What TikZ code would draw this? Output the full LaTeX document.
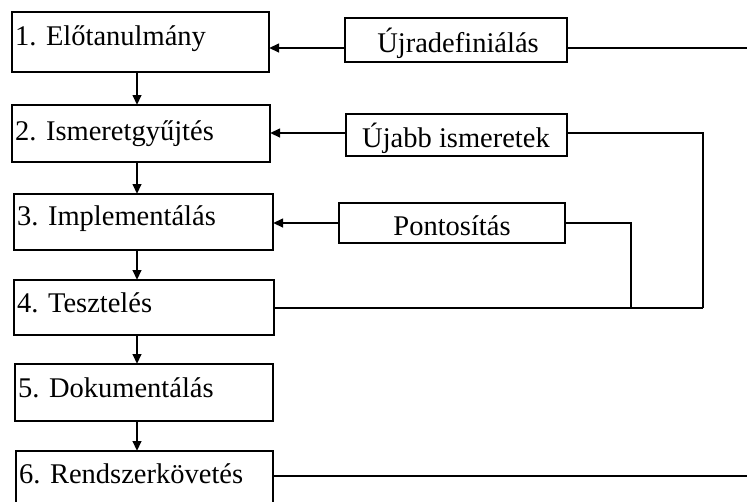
\documentclass[tikz,border=0pt]{standalone}
\usepackage{fontspec}
\setmainfont{Liberation Serif}
\usetikzlibrary{arrows.meta,calc}
\begin{document}
\begin{tikzpicture}[x=1pt,y=-1pt,
  box/.style={draw,line width=2pt,inner sep=0pt,outer sep=0pt,anchor=north west},
  txt/.style={inner sep=0pt,font=\fontsize{28.5}{30}\selectfont},
  ln/.style={line width=2.3pt},
  arr/.style={line width=2.3pt,-{Triangle[length=10pt,width=8.5pt]}}]
\useasboundingbox (0,0) rectangle (747,501);
\clip (0,0) rectangle (747,501);
% main boxes
\node[box,minimum width=257,minimum height=60] (b1) at (12,12) {};
\node[box,minimum width=258,minimum height=57] (b2) at (12,105) {};
\node[box,minimum width=259,minimum height=56] (b3) at (14,194) {};
\node[box,minimum width=260,minimum height=55] (b4) at (14,280) {};
\node[box,minimum width=258,minimum height=57] (b5) at (15,364) {};
\node[box,minimum width=257,minimum height=70] (b6) at (16,451) {};
\node[txt,anchor=base west] (t1) at (15,45) {1. Előtanulmány};
\node[txt,anchor=base west] (t2) at (15,140) {2. Ismeretgyűjtés};
\node[txt,anchor=base west] (t3) at (17,225) {3. Implementálás};
\node[txt,anchor=base west] (t4) at (17,312) {4. Tesztelés};
\node[txt,anchor=base west] (t5) at (18,397) {5. Dokumentálás};
\node[txt,anchor=base west] (t6) at (19,483) {6. Rendszerkövetés};
% side boxes
\node[box,minimum width=222,minimum height=44] (s1) at (345,18) {};
\node[box,minimum width=221,minimum height=42] (s2) at (346,114) {};
\node[box,minimum width=226,minimum height=40] (s3) at (339,203) {};
\node[txt,anchor=base] (u1) at (458,52) {Újradefiniálás};
\node[txt,anchor=base] (u2) at (456,147) {Újabb ismeretek};
\node[txt,anchor=base] (u3) at (452,235) {Pontosítás};
% helper coordinates
\coordinate (xa) at (137,0);
\coordinate (y1) at (0,48);
\coordinate (e1) at (747,48);
\coordinate (c2) at (703,133);
\coordinate (c4) at (703,308);
\coordinate (c3) at (631,223);
\coordinate (c3b) at (631,307);
\coordinate (e6) at (747,476);
% vertical arrows
\draw[arr] (b1.south -| xa) -- (b2.north -| xa);
\draw[arr] (b2.south -| xa) -- (b3.north -| xa);
\draw[arr] (b3.south -| xa) -- (b4.north -| xa);
\draw[arr] (b4.south -| xa) -- (b5.north -| xa);
\draw[arr] (b5.south -| xa) -- (b6.north -| xa);
% feedback
\draw[arr] (s1.west |- y1) -- (b1.east |- y1);
\draw[ln] (s1.east |- y1) -- (e1);
\draw[arr] (s2.west |- c2) -- (b2.east |- c2);
\draw[ln] (s2.east |- c2) -- (c2) -- (c4);
\draw[arr] (s3.west |- c3) -- (b3.east |- c3);
\draw[ln] (s3.east |- c3) -- (c3) -- (c3b);
\draw[ln] (b4.east |- c4) -- (c4);
\draw[ln] (b6.east |- e6) -- (e6);
\end{tikzpicture}
\end{document}
